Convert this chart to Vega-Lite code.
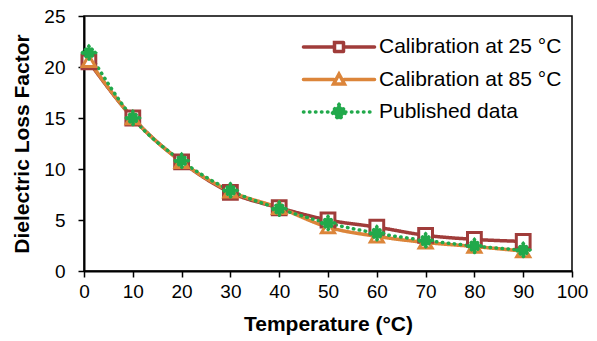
{
  "$schema": "https://vega.github.io/schema/vega-lite/v6.json",
  "autosize": {"type": "none"},
  "width": 488,
  "height": 255,
  "padding": {"left": 84, "top": 16, "right": 25, "bottom": 70},
  "background": "white",
  "config": {
    "font": "Liberation Sans",
    "view": {"stroke": "black", "strokeWidth": 1.5},
    "axis": {
      "grid": false,
      "labelFlush": false,
      "labelOverlap": false,
      "domainColor": "black",
      "domainWidth": 2,
      "tickColor": "black",
      "tickWidth": 1.5,
      "tickSize": 6,
      "labelFont": "Liberation Sans",
      "labelFontSize": 19,
      "labelColor": "black",
      "titleFont": "Liberation Sans",
      "titleFontSize": 21,
      "titleFontWeight": "bold",
      "titleColor": "black"
    }
  },
  "data": {
    "values": [
      {"T": 1, "v": 20.5, "s": "Calibration at 25 °C"},
      {"T": 10, "v": 15.0, "s": "Calibration at 25 °C"},
      {"T": 20, "v": 10.7, "s": "Calibration at 25 °C"},
      {"T": 30, "v": 7.7, "s": "Calibration at 25 °C"},
      {"T": 40, "v": 6.2, "s": "Calibration at 25 °C"},
      {"T": 50, "v": 5.0, "s": "Calibration at 25 °C"},
      {"T": 60, "v": 4.3, "s": "Calibration at 25 °C"},
      {"T": 70, "v": 3.5, "s": "Calibration at 25 °C"},
      {"T": 80, "v": 3.1, "s": "Calibration at 25 °C"},
      {"T": 90, "v": 2.9, "s": "Calibration at 25 °C"},
      {"T": 1, "v": 20.6, "s": "Calibration at 85 °C"},
      {"T": 10, "v": 15.0, "s": "Calibration at 85 °C"},
      {"T": 20, "v": 10.7, "s": "Calibration at 85 °C"},
      {"T": 30, "v": 7.8, "s": "Calibration at 85 °C"},
      {"T": 40, "v": 6.2, "s": "Calibration at 85 °C"},
      {"T": 50, "v": 4.3, "s": "Calibration at 85 °C"},
      {"T": 60, "v": 3.4, "s": "Calibration at 85 °C"},
      {"T": 70, "v": 2.8, "s": "Calibration at 85 °C"},
      {"T": 80, "v": 2.4, "s": "Calibration at 85 °C"},
      {"T": 90, "v": 1.95, "s": "Calibration at 85 °C"},
      {"T": 1, "v": 21.4, "s": "Published data"},
      {"T": 10, "v": 15.0, "s": "Published data"},
      {"T": 20, "v": 10.8, "s": "Published data"},
      {"T": 30, "v": 7.9, "s": "Published data"},
      {"T": 40, "v": 6.1, "s": "Published data"},
      {"T": 50, "v": 4.7, "s": "Published data"},
      {"T": 60, "v": 3.7, "s": "Published data"},
      {"T": 70, "v": 3.0, "s": "Published data"},
      {"T": 80, "v": 2.45, "s": "Published data"},
      {"T": 90, "v": 2.05, "s": "Published data"}
    ]
  },
  "encoding": {
    "x": {
      "field": "T", "type": "quantitative",
      "scale": {"domain": [0, 100], "nice": false},
      "axis": {"values": [0,10,20,30,40,50,60,70,80,90,100], "title": "Temperature (°C)", "labelPadding": 5, "titlePadding": 12}
    },
    "y": {
      "field": "v", "type": "quantitative",
      "scale": {"domain": [0, 25], "nice": false},
      "axis": {"values": [0,5,10,15,20,25], "title": "Dielectric Loss Factor", "labelPadding": 13, "titlePadding": 11}
    }
  },
  "layer": [
    {
      "mark": {"type": "line", "interpolate": "monotone", "strokeWidth": 3.5, "strokeCap": "round"},
      "encoding": {
        "color": {
          "field": "s", "type": "nominal",
          "scale": {"domain": ["Calibration at 25 °C", "Calibration at 85 °C", "Published data"], "range": ["#A03C3A", "#DC853A", "#21A94B"]},
          "legend": {
            "title": null,
            "orient": "none",
            "legendX": 238,
            "legendY": 14,
            "labelFont": "Liberation Sans",
            "labelFontSize": 21,
            "labelColor": "black",
            "labelLimit": 400,
            "symbolSize": 900,
            "labelOffset": 23,
            "rowPadding": 3.5,
            "padding": 0,
            "encode": {
              "symbols": {
                "update": {
                  "shape": {"signal": "datum.value === 'Calibration at 25 °C' ? 'M-2.37,0H-0.3M0.3,0H2.37M-0.3,-0.3H0.3V0.3H-0.3Z' : datum.value === 'Calibration at 85 °C' ? 'M-2.37,0H-0.33M0.33,0H2.37M0,-0.36L0.36,0.3H-0.36Z' : 'M-2.37,0H2.37M0,-0.5L0.5,0L0,0.5L-0.5,0Z'"},
                  "fill": {"signal": "datum.value === 'Published data' ? '#21A94B' : 'white'"},
                  "strokeDash": {"signal": "datum.value === 'Published data' ? [0.5, 5.5] : []"},
                  "strokeCap": {"value": "round"},
                  "strokeWidth": {"value": 3.5},
                  "opacity": {"value": 1}
                }
              }
            }
          }
        },
        "strokeDash": {
          "field": "s", "type": "nominal",
          "scale": {"domain": ["Calibration at 25 °C", "Calibration at 85 °C", "Published data"], "range": [[1, 0], [1, 0], [0.5, 5.5]]},
          "legend": null
        },
        "order": {"field": "T"}
      }
    },
    {
      "transform": [{"filter": "datum.s === 'Calibration at 25 °C'"}],
      "mark": {"type": "point", "shape": "square", "size": 190, "strokeWidth": 3, "stroke": "#A03C3A", "fill": "white", "fillOpacity": 1, "opacity": 1}
    },
    {
      "transform": [{"filter": "datum.s === 'Calibration at 85 °C'"}],
      "mark": {"type": "point", "shape": "triangle-up", "size": 170, "strokeWidth": 3, "stroke": "#DC853A", "fill": "white", "fillOpacity": 1, "opacity": 1}
    },
    {
      "transform": [{"filter": "datum.s === 'Published data'"}],
      "mark": {"type": "point", "shape": "diamond", "size": 170, "strokeWidth": 3.5, "stroke": "#21A94B", "strokeDash": [0.5, 4], "strokeCap": "round", "fill": "#21A94B", "fillOpacity": 1, "opacity": 1}
    }
  ]
}
